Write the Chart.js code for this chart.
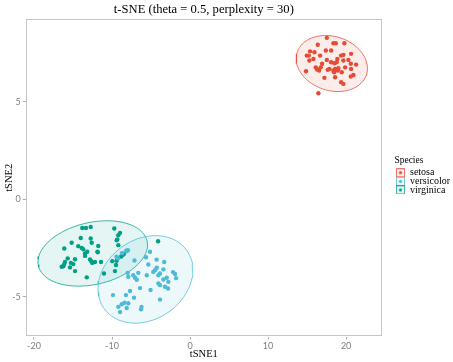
<!DOCTYPE html>
<html><head><meta charset="utf-8">
<script src="https://cdn.jsdelivr.net/npm/chart.js@4.4.0/dist/chart.umd.min.js"></script>
<style>html,body{margin:0;padding:0;background:#fff}</style>
</head><body>
<canvas id="c" width="453" height="362"></canvas>
<script>
const species = ['setosa', 'versicolor', 'virginica'];
const colors = ['#E64B35', '#4DBBD5', '#00A087'];
const xTicks = [-20, -10, 0, 10, 20];
const yTicks = [-5, 0, 5];

const setosaX = [17.53,18.37,18.68,19.78,16.37,15.38,15.94,17.40,18.08,14.96,15.22,16.67,19.36,19.65,20.64,15.81,17.53,19.65,15.29,16.92,18.08,18.50,18.80,20.60,21.28,16.11,16.75,17.86,18.37,18.59,18.93,19.87,20.64,14.87,16.54,17.65,19.44,18.46,20.94,17.22,18.59,20.60,19.36,19.65,16.45,16.28,18.88,20.29,19.01];
const setosaY = [8.27,7.99,7.99,7.99,7.92,7.58,7.53,7.62,7.62,7.36,7.36,7.36,7.36,7.40,7.45,7.19,7.14,7.11,7.11,6.94,7.02,6.97,7.02,6.94,6.90,6.76,6.76,6.68,6.60,6.68,6.60,6.76,6.68,6.56,6.60,6.63,6.51,6.51,6.37,6.22,6.25,6.29,6.00,5.91,5.43,6.65,7.19,7.14,6.71];

const versicolorX = [-5.13,-5.64,-4.29,-3.31,-7.12,-5.35,-4.27,-4.49,-4.71,-3.42,-3.85,-4.06,-6.63,-5.55,-7.27,-7.05,-6.83,-7.91,-2.99,-3.42,-1.92,-1.79,-2.78,-4.06,-3.85,-3.21,-2.82,-6.41,-5.06,-7.69,-8.21,-9.87,-7.18,-3.85,-7.91,-8.40,-8.76,-9.19,-8.12,-6.22,-6.28,-8.97,-9.42,-9.23,-8.72,-8.21,-7.95,-2.18,-7.99];
const versicolorY = [-2.69,-2.97,-3.09,-3.21,-3.14,-3.34,-3.51,-3.63,-3.72,-3.59,-3.80,-3.89,-3.77,-3.89,-3.89,-4.02,-4.12,-3.97,-4.02,-4.11,-3.83,-4.04,-4.23,-4.31,-4.40,-4.48,-4.57,-4.55,-4.65,-4.70,-4.91,-4.91,-5.04,-5.14,-5.33,-5.30,-5.38,-5.51,-5.57,-5.52,-5.64,-5.78,-2.94,-3.02,-2.76,-2.66,-2.61,-3.73,-3.77];

const virginicaX = [-13.81,-13.33,-12.73,-9.71,-8.97,-9.19,-14.01,-12.73,-9.32,-15.17,-12.60,-14.32,-13.88,-11.76,-9.19,-16.12,-13.68,-13.17,-13.46,-11.83,-13.46,-8.63,-8.12,-15.68,-14.74,-12.82,-12.65,-12.18,-9.96,-9.40,-16.03,-16.12,-16.24,-15.26,-14.96,-12.53,-11.41,-15.38,-9.49,-14.74,-9.62,-11.03,-13.24,-16.45,-4.10,-8.85,-8.46,-9.40,-11.86];
const virginicaY = [-1.47,-1.47,-1.42,-1.50,-1.72,-1.84,-1.98,-2.01,-2.06,-2.23,-2.23,-2.40,-2.49,-2.39,-2.35,-2.52,-2.56,-2.69,-2.78,-2.72,-2.90,-2.86,-2.64,-3.03,-3.07,-3.08,-3.17,-3.21,-3.17,-3.15,-3.21,-3.32,-3.43,-3.26,-3.32,-3.26,-3.21,-3.49,-3.37,-3.68,-3.68,-3.80,-4.00,-3.46,-2.15,-2.94,-2.79,-2.10,-2.68];

const seriesX = [setosaX, versicolorX, virginicaX];
const seriesY = [setosaY, versicolorY, virginicaY];

function rgba(hex, a) {
  const n = parseInt(hex.slice(1), 16);
  return `rgba(${(n >> 16) & 255},${(n >> 8) & 255},${n & 255},${a})`;
}

// stat_ellipse(type = "t"): robust multivariate-t covariance (cov.trob) + F-based radius
function tEllipse(xs, ys, level) {
  const n = xs.length, p = 2, nu = 5;
  let w = new Array(n).fill(1);
  let lx = xs.reduce((a, b) => a + b, 0) / n;
  let ly = ys.reduce((a, b) => a + b, 0) / n;
  let cov = [0, 0, 0];
  for (let it = 0; it < 25; it++) {
    const w0 = w.slice();
    const dx = xs.map(v => v - lx), dy = ys.map(v => v - ly);
    const sw = w.reduce((a, b) => a + b, 0);
    let sxx = 0, syy = 0, sxy = 0;
    for (let i = 0; i < n; i++) { sxx += w[i] * dx[i] * dx[i]; syy += w[i] * dy[i] * dy[i]; sxy += w[i] * dx[i] * dy[i]; }
    sxx /= sw; syy /= sw; sxy /= sw;
    const det = sxx * syy - sxy * sxy;
    w = dx.map((d, i) => (nu + p) / (nu + (syy * d * d - 2 * sxy * d * dy[i] + sxx * dy[i] * dy[i]) / det));
    const sw2 = w.reduce((a, b) => a + b, 0);
    let cxx = 0, cyy = 0, cxy = 0;
    for (let i = 0; i < n; i++) { cxx += w[i] * dx[i] * dx[i]; cyy += w[i] * dy[i] * dy[i]; cxy += w[i] * dx[i] * dy[i]; }
    cov = [cxx / n, cxy / n, cyy / n];
    lx = xs.reduce((a, v, i) => a + w[i] * v, 0) / sw2;
    ly = ys.reduce((a, v, i) => a + w[i] * v, 0) / sw2;
    if (w.every((v, i) => Math.abs(v - w0[i]) < 0.01)) break;
  }
  const d = n - 1;
  const qf = (d / 2) * (Math.pow(1 - level, -2 / d) - 1);
  const r = Math.sqrt(2 * qf);
  const a = Math.sqrt(cov[0]), b = cov[1] / a, c = Math.sqrt(cov[2] - b * b);
  const pts = [];
  for (let k = 0; k <= 72; k++) {
    const t = 2 * Math.PI * k / 72;
    const u = Math.cos(t), v = Math.sin(t);
    pts.push({ x: lx + r * a * u, y: ly + r * (b * u + c * v) });
  }
  return pts;
}

function keyCanvas(col) {
  const cv = document.createElement('canvas');
  cv.width = 12; cv.height = 9;
  const g = cv.getContext('2d');
  g.fillStyle = rgba(col, 0.1);
  g.fillRect(3.5, 0.5, 8, 8);
  g.strokeStyle = rgba(col, 0.75);
  g.lineWidth = 1;
  g.strokeRect(3.5, 0.5, 8, 8);
  g.fillStyle = col;
  g.beginPath(); g.arc(7.5, 4.5, 1.6, 0, Math.PI * 2); g.fill();
  return cv;
}
const keys = colors.map(keyCanvas);

const datasets = [];
species.forEach((s, i) => {
  datasets.push({
    label: s,
    data: seriesX[i].map((x, j) => ({ x, y: seriesY[i][j] })),
    backgroundColor: colors[i],
    borderWidth: 0,
    pointRadius: 2.2,
    order: 0
  });
});
species.forEach((s, i) => {
  datasets.push({
    label: s + ' ellipse',
    data: tEllipse(seriesX[i], seriesY[i], 0.975),
    showLine: true,
    fill: 'shape',
    backgroundColor: rgba(colors[i], 0.1),
    borderColor: rgba(colors[i], 0.75),
    borderWidth: 1,
    pointRadius: 0,
    tension: 0,
    order: 1
  });
});

const panelBorder = {
  id: 'panelBorder',
  afterDatasetsDraw(chart) {
    const a = chart.chartArea, ctx = chart.ctx;
    ctx.save();
    ctx.strokeStyle = '#c6c6c6';
    ctx.lineWidth = 1;
    ctx.strokeRect(Math.round(a.left) + 0.5, Math.round(a.top) + 0.5, Math.round(a.right - a.left) - 1, Math.round(a.bottom - a.top) - 1);
    ctx.restore();
  }
};

new Chart(document.getElementById('c'), {
  type: 'scatter',
  data: { datasets },
  plugins: [panelBorder],
  options: {
    responsive: false,
    animation: false,
    layout: { padding: 0 },
    plugins: {
      title: {
        display: true,
        fullSize: false,
        text: 't-SNE (theta = 0.5, perplexity = 30)',
        color: '#000',
        font: { family: 'Liberation Serif', size: 12.6, weight: 'normal' },
        padding: { top: 2, bottom: 2 }
      },
      tooltip: { enabled: false },
      legend: {
        position: 'right',
        align: 'start',
        fullSize: false,
        maxWidth: 58.6,
        title: {
          display: true,
          text: 'Species',
          color: '#000',
          position: 'start',
          font: { family: 'Liberation Serif', size: 9.5 },
          padding: { top: 136.2, bottom: 2.4 }
        },
        labels: {
          generateLabels: () => species.map((s, i) => ({
            text: s, pointStyle: keys[i], fillStyle: colors[i], strokeStyle: colors[i],
            lineWidth: 0, hidden: false, datasetIndex: i, fontColor: '#000'
          })),
          usePointStyle: true,
          pointStyleWidth: 12,
          boxHeight: 9,
          padding: -1.4,
          color: '#000',
          font: { family: 'Liberation Serif', size: 10 }
        }
      }
    },
    scales: {
      x: {
        type: 'linear',
        min: -21.06, max: 24.6,
        afterBuildTicks: (s) => { s.ticks = xTicks.map(v => ({ value: v })); },
        afterFit: (s) => { s.height = 25.5; },
        grid: { display: true, drawOnChartArea: false, drawTicks: true, tickLength: 3, color: '#b0b0b0' },
        border: { display: false },
        ticks: { color: '#7f7f7f', padding: 1, font: { family: 'Lato', size: 9 } },
        title: { display: true, text: 'tSNE1', color: '#000', font: { family: 'Liberation Serif', size: 10.5 }, padding: { top: 0, bottom: 1 } }
      },
      y: {
        type: 'linear',
        min: -7.03, max: 9.23,
        afterBuildTicks: (s) => { s.ticks = yTicks.map(v => ({ value: v })); },
        afterFit: (s) => { s.width = 25.7; },
        grid: { display: true, drawOnChartArea: false, drawTicks: true, tickLength: 3, color: '#b0b0b0' },
        border: { display: false },
        ticks: { color: '#7f7f7f', padding: 2, font: { family: 'Lato', size: 9 } },
        title: { display: true, text: 'tSNE2', color: '#000', font: { family: 'Liberation Serif', size: 10.5 }, padding: { top: 3, bottom: 0 } }
      },
      gap: {
        type: 'linear',
        position: 'right',
        display: true,
        afterFit: (s) => { s.width = 12.4; },
        grid: { display: false },
        border: { display: false },
        ticks: { display: false }
      }
    }
  }
});
</script>
</body></html>
